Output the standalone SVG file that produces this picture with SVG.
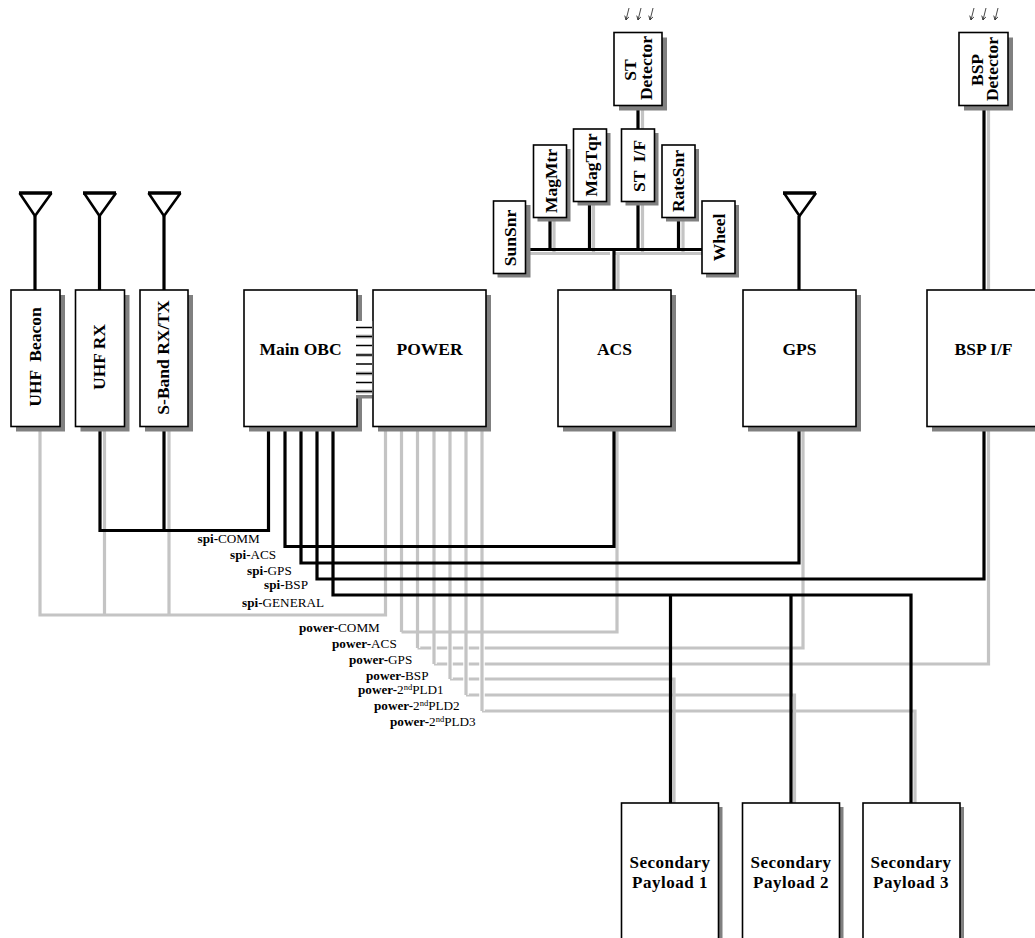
<svg xmlns="http://www.w3.org/2000/svg" width="1035" height="938" viewBox="0 0 1035 938">
<style>
text{font-family:"Liberation Serif","Times New Roman",serif;fill:#000}
.t{font-weight:bold;font-size:17.5px;text-anchor:middle}
.p{font-weight:bold;font-size:17px;text-anchor:middle;letter-spacing:.5px}
.l{font-size:13.2px}
.l tspan.b{font-weight:bold}
.sh{fill:#808080}
.bx{fill:#fff;stroke:#000;stroke-width:1.6}
.k{fill:none;stroke:#000;stroke-width:3.2}
.g{fill:none;stroke:#c4c4c4;stroke-width:3.2}
.w{fill:none;stroke:#fff;stroke-width:5.5}
.ant{fill:none;stroke:#000;stroke-width:2.6}
.bar{fill:none;stroke:#000;stroke-width:3.6}
.ray{fill:none;stroke:#333;stroke-width:.9}
</style>
<defs>
<marker id="ah" markerWidth="6" markerHeight="6" refX="4.500" refY="3" orient="auto"><path d="M0,0.500L4.500,3L0,5.500" fill="none" stroke="#333" stroke-width="1"/></marker>
</defs>
<g id="connectors">
<g id="gray-lines">
<path class="g" d="M40,430V615H385.500V430M104.500,430V615M169,430V615"/>
<path class="g" d="M401.500,632H617V430"/>
<path class="g" d="M417.500,648H803V430"/>
<path class="g" d="M434,664H988.500V105"/>
<path class="g" d="M450,679H674V803"/>
<path class="g" d="M466,695H794.500V803"/>
<path class="g" d="M482,711H915V803"/>
<path class="w" d="M417.500,634V648M434,634V664M450,634V679M466,634V695M482,634V711"/>
<path class="g" d="M401.500,430V632M417.500,430V648M434,430V664M450,430V679M466,430V695M482,430V711"/>
<path class="g" d="M525,253.500H610M615,253.500H702M554,217V253.500M593.500,201V253.500M642.500,201V253.500M683,217V253.500M618,253.500V290M642.500,105V129"/>
</g>
<g id="black-lines">
<path class="k" d="M35,216V290M99.500,216V290M164,216V290M984,105V290M799,216V290"/>
<path class="k" d="M100,430V530.500H268.500V430M164,430V530.500"/>
<path class="k" d="M285,430V546.500H614V430"/>
<path class="k" d="M301,430V563H799V430"/>
<path class="k" d="M317,430V579H984V430"/>
<path class="k" d="M333,430V595H911V803M670.500,595V803M791,595V803"/>
<path class="k" d="M525,249.500H702M550,217V249.500M589.500,201V249.500M638,201V249.500M678.500,217V249.500M614,249.500V290M638,105V129"/>
</g>
</g>
<g id="uhf-beacon"><rect class="sh" x="16" y="295" width="49" height="136.500"/><rect class="bx" x="11" y="290" width="49" height="136.500"/><text class="t" xml:space="preserve" transform="translate(40.700,357) rotate(-90)">UHF  Beacon</text><path class="ant" d="M19.500,193L35,216L51.500,193"/><path class="bar" d="M19,193H52"/></g>
<g id="uhf-rx"><rect class="sh" x="80.500" y="295" width="49" height="136.500"/><rect class="bx" x="75.500" y="290" width="49" height="136.500"/><text class="t" transform="translate(105,357) rotate(-90)">UHF RX</text><path class="ant" d="M84,193L99.500,216L116,193"/><path class="bar" d="M83,193H116"/></g>
<g id="s-band"><rect class="sh" x="145" y="295" width="48" height="136.500"/><rect class="bx" x="140" y="290" width="48" height="136.500"/><text class="t" transform="translate(169,357.500) rotate(-90)">S-Band RX/TX</text><path class="ant" d="M148.500,193L164,216L180.500,193"/><path class="bar" d="M148,193H181"/></g>
<g id="main-obc"><rect class="sh" x="249" y="295" width="113" height="136.500"/><rect class="bx" x="244" y="290" width="113" height="136.500"/><text class="t" x="300.500" y="355">Main OBC</text></g>
<g id="power"><rect class="sh" x="378" y="295" width="113" height="136.500"/><rect class="bx" x="373" y="290" width="113" height="136.500"/><text class="t" x="429.500" y="355">POWER</text></g>
<g id="links">
<rect x="355.500" y="321" width="16.700" height="74" fill="#fff"/>
<rect x="356" y="395" width="16" height="3.500" fill="#808080"/>
<path fill="none" stroke="#c4c4c4" stroke-width="4" d="M356,336.500H372M356,355H372M356,373.500H372M356,391.500H372"/>
<path fill="none" stroke="#000" stroke-width="1.500" d="M356,327.500H372M356,336.500H372M356,345.500H372M356,355H372M356,364H372M356,373.500H372M356,382.500H372M356,391.500H372"/>
</g>
<g id="acs"><rect class="sh" x="563" y="295" width="113" height="136.500"/><rect class="bx" x="558" y="290" width="113" height="136.500"/><text class="t" x="614.500" y="355">ACS</text></g>
<g id="gps"><rect class="sh" x="748" y="295" width="113" height="136.500"/><rect class="bx" x="743" y="290" width="113" height="136.500"/><text class="t" x="799.500" y="355">GPS</text><path class="ant" d="M784,193L799.500,216L816,193"/><path class="bar" d="M783,193H816"/></g>
<g id="bsp-if"><rect class="sh" x="932" y="295" width="113" height="136.500"/><rect class="bx" x="927" y="290" width="113" height="136.500"/><text class="t" x="983.500" y="355">BSP I/F</text></g>
<g id="st-detector"><rect class="sh" x="619" y="37.500" width="48" height="73"/><rect class="bx" x="614" y="32.500" width="48" height="73"/><text class="t" transform="translate(636,70) rotate(-90)">ST</text><text class="t" transform="translate(651.700,68) rotate(-90)">Detector</text><path class="ray" marker-end="url(#ah)" d="M629,8L626,20"/><path class="ray" marker-end="url(#ah)" d="M641,8L638,20"/><path class="ray" marker-end="url(#ah)" d="M653,8L650,20"/></g>
<g id="st-if"><rect class="sh" x="625.500" y="133" width="33" height="72.500"/><rect class="bx" x="621.500" y="129" width="33" height="72.500"/><text class="t" xml:space="preserve" transform="translate(645,166) rotate(-90)">ST  I/F</text></g>
<g id="magtqr"><rect class="sh" x="577.500" y="133" width="33" height="72.500"/><rect class="bx" x="573.500" y="129" width="33" height="72.500"/><text class="t" transform="translate(597.300,165) rotate(-90)">MagTqr</text></g>
<g id="magmtr"><rect class="sh" x="537.500" y="149" width="33" height="72.500"/><rect class="bx" x="533.500" y="145" width="33" height="72.500"/><text class="t" transform="translate(556.700,181) rotate(-90)">MagMtr</text></g>
<g id="ratesnr"><rect class="sh" x="666" y="149" width="33" height="72.500"/><rect class="bx" x="662" y="145" width="33" height="72.500"/><text class="t" transform="translate(684,181) rotate(-90)">RateSnr</text></g>
<g id="sunsnr"><rect class="sh" x="497.500" y="205" width="33" height="72.500"/><rect class="bx" x="493.500" y="201" width="32" height="72.500"/><text class="t" transform="translate(516,238) rotate(-90)">SunSnr</text></g>
<g id="wheel"><rect class="sh" x="706" y="205" width="33" height="72.500"/><rect class="bx" x="702" y="201" width="33" height="72.500"/><text class="t" transform="translate(725,237.500) rotate(-90)">Wheel</text></g>
<g id="bsp-detector"><rect class="sh" x="964" y="37.500" width="49" height="73"/><rect class="bx" x="959" y="32.500" width="49" height="73"/><text class="t" transform="translate(982.700,70) rotate(-90)">BSP</text><text class="t" transform="translate(997.500,69) rotate(-90)">Detector</text><path class="ray" marker-end="url(#ah)" d="M974,8L971,20"/><path class="ray" marker-end="url(#ah)" d="M986,8L983,20"/><path class="ray" marker-end="url(#ah)" d="M998,8L995,20"/></g>
<g id="payload-1"><rect class="sh" x="625.500" y="807" width="97" height="135"/><rect class="bx" x="621.500" y="803" width="97" height="140"/><text class="p" x="670" y="868">Secondary</text><text class="p" x="670" y="888">Payload 1</text></g>
<g id="payload-2"><rect class="sh" x="746.500" y="807" width="97" height="135"/><rect class="bx" x="742.500" y="803" width="97" height="140"/><text class="p" x="791" y="868">Secondary</text><text class="p" x="791" y="888">Payload 2</text></g>
<g id="payload-3"><rect class="sh" x="867" y="807" width="97" height="135"/><rect class="bx" x="863" y="803" width="97" height="140"/><text class="p" x="911" y="868">Secondary</text><text class="p" x="911" y="888">Payload 3</text></g>
<g id="labels">
<text class="l" x="197.500" y="543"><tspan class="b">spi-</tspan>COMM</text>
<text class="l" x="230" y="559"><tspan class="b">spi-</tspan>ACS</text>
<text class="l" x="247" y="575"><tspan class="b">spi-</tspan>GPS</text>
<text class="l" x="264" y="589"><tspan class="b">spi-</tspan>BSP</text>
<text class="l" x="242" y="607"><tspan class="b">spi-</tspan>GENERAL</text>
<text class="l" x="299" y="631.500"><tspan class="b">power-</tspan>COMM</text>
<text class="l" x="332" y="648"><tspan class="b">power-</tspan>ACS</text>
<text class="l" x="349" y="664"><tspan class="b">power-</tspan>GPS</text>
<text class="l" x="366" y="680"><tspan class="b">power-</tspan>BSP</text>
<text class="l" x="358" y="694"><tspan class="b">power-</tspan>2<tspan font-size="8.500" dy="-4">nd</tspan><tspan dy="4">PLD1</tspan></text>
<text class="l" x="374" y="710"><tspan class="b">power-</tspan>2<tspan font-size="8.500" dy="-4">nd</tspan><tspan dy="4">PLD2</tspan></text>
<text class="l" x="390" y="725.500"><tspan class="b">power-</tspan>2<tspan font-size="8.500" dy="-4">nd</tspan><tspan dy="4">PLD3</tspan></text>
</g>
</svg>
